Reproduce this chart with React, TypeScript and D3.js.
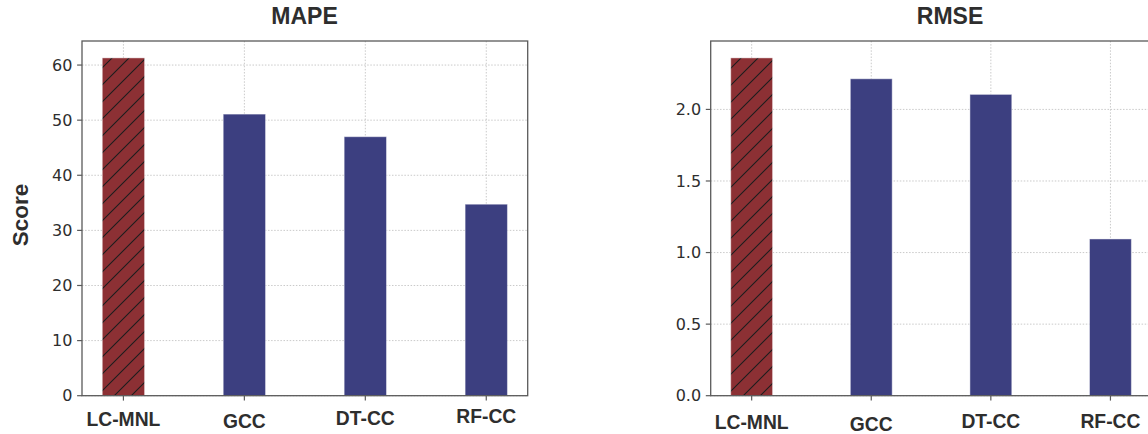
import React from "react";
import * as d3 from "d3";

// Model comparison scores
const categories = ["LC-MNL", "GCC", "DT-CC", "RF-CC"];
const mapeValues = [61.3, 51.1, 47.0, 34.75];
const rmseValues = [2.36, 2.214, 2.105, 1.095];
const mapeTicks = [0, 10, 20, 30, 40, 50, 60];
const rmseTicks = [0, 0.5, 1.0, 1.5, 2.0];

const W = 1148;
const H = 434;
const AX_TOP = 41;
const AX_BOTTOM = 395.7;
const BAR_W = 0.35;
const RED = "#8c3034";
const NAVY = "#3c3f80";
const TEXT = "#2e2e2e";
const SPINE = "#5a5a5a";

type Panel = {
  title: string;
  values: number[];
  ticks: number[];
  fmt: (v: number) => string;
  left: number;
  width: number;
  titleX: number;
  labelY: number[];
};

const panels: Panel[] = [
  {
    title: "MAPE",
    values: mapeValues,
    ticks: mapeTicks,
    fmt: d3.format("d"),
    left: 82,
    width: 445.7,
    titleX: 304.5,
    labelY: [425.7, 427.8, 424.7, 422.5],
  },
  {
    title: "RMSE",
    values: rmseValues,
    ticks: rmseTicks,
    fmt: d3.format(".1f"),
    left: 710.7,
    width: 440.7,
    titleX: 950,
    labelY: [429, 431, 428, 427.5],
  },
];

function BarPanel({ p }: { p: Panel }) {
  const pad = 0.1675; // 5% margin around the bar extent
  const x = d3
    .scaleLinear()
    .domain([-BAR_W / 2 - pad, categories.length - 1 + BAR_W / 2 + pad])
    .range([p.left, p.left + p.width]);
  const yMax = (d3.max(p.values) as number) * 1.05;
  const y = d3.scaleLinear().domain([0, yMax]).range([AX_BOTTOM, AX_TOP]);
  const right = p.left + p.width;
  const gridStyle = {
    stroke: "#c4c4c4",
    strokeWidth: 0.9,
    strokeDasharray: "1.5,1.6",
  };

  return (
    <g>
      {/* grid */}
      {p.ticks.map((t) => (
        <line key={"gy" + t} x1={p.left} x2={right} y1={y(t)} y2={y(t)} {...gridStyle} />
      ))}
      {categories.map((c, i) => (
        <line key={"gx" + c} x1={x(i)} x2={x(i)} y1={AX_TOP} y2={AX_BOTTOM} {...gridStyle} />
      ))}

      {/* bars */}
      {p.values.map((v, i) => (
        <rect
          key={"b" + i}
          x={x(i - BAR_W / 2)}
          width={x(i + BAR_W / 2) - x(i - BAR_W / 2)}
          y={y(v)}
          height={AX_BOTTOM - y(v)}
          fill={i === 0 ? "url(#hatchRed)" : NAVY}
          stroke="rgba(255,255,255,0.45)"
          strokeWidth={1}
        />
      ))}

      {/* spines */}
      <rect
        x={p.left}
        y={AX_TOP}
        width={p.width}
        height={AX_BOTTOM - AX_TOP}
        fill="none"
        stroke={SPINE}
        strokeWidth={1.3}
      />

      {/* y ticks */}
      {p.ticks.map((t) => (
        <g key={"ty" + t}>
          <line x1={p.left - 4.9} x2={p.left} y1={y(t)} y2={y(t)} stroke={SPINE} strokeWidth={1.2} />
          <text
            x={p.left - 9.6}
            y={y(t)}
            dy="0.36em"
            textAnchor="end"
            fontFamily="DejaVu Sans"
            fontSize={16}
            fill={TEXT}
          >
            {p.fmt(t)}
          </text>
        </g>
      ))}

      {/* x ticks */}
      {categories.map((c, i) => (
        <g key={"tx" + c}>
          <line x1={x(i)} x2={x(i)} y1={AX_BOTTOM} y2={AX_BOTTOM + 4.9} stroke={SPINE} strokeWidth={1.2} />
          <text
            x={x(i)}
            y={p.labelY[i]}
            textAnchor="middle"
            fontFamily="Liberation Sans, Arial, sans-serif"
            fontWeight="bold"
            fontSize={19.3}
            fill={TEXT}
          >
            {c}
          </text>
        </g>
      ))}

      {/* title */}
      <text
        x={p.titleX}
        y={24}
        textAnchor="middle"
        fontFamily="Liberation Sans, Arial, sans-serif"
        fontWeight="bold"
        fontSize={23}
        fill={TEXT}
      >
        {p.title}
      </text>
    </g>
  );
}

export default function App() {
  return (
    <svg
      width={W}
      height={H}
      viewBox={`0 0 ${W} ${H}`}
      style={{ position: "absolute", left: 0, top: 0, background: "#fff" }}
    >
      <defs>
        <pattern id="hatchRed" patternUnits="userSpaceOnUse" width={17} height={17}>
          <rect width={17} height={17} fill={RED} />
          <path
            d="M0,17 L17,0 M-4.25,4.25 L4.25,-4.25 M12.75,21.25 L21.25,12.75"
            stroke="#1c1c1c"
            strokeWidth={1.1}
          />
        </pattern>
      </defs>
      <rect width={W} height={H} fill="#fff" />
      {panels.map((p) => (
        <BarPanel key={p.title} p={p} />
      ))}
      <text
        transform={`translate(28,215) rotate(-90)`}
        textAnchor="middle"
        fontFamily="Liberation Sans, Arial, sans-serif"
        fontWeight="bold"
        fontSize={22.5}
        fill={TEXT}
      >
        Score
      </text>
    </svg>
  );
}
